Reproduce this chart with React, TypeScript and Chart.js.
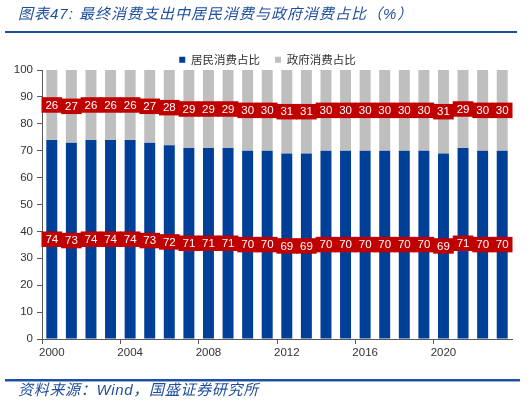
import { useEffect, useRef } from "react";
import { Chart, registerables, type Plugin } from "chart.js";

Chart.register(...registerables);

// 2000–2023 年，最终消费支出构成（%）
const years = [
  "2000", "2001", "2002", "2003", "2004", "2005", "2006", "2007",
  "2008", "2009", "2010", "2011", "2012", "2013", "2014", "2015",
  "2016", "2017", "2018", "2019", "2020", "2021", "2022", "2023",
];
const residentShare = [74, 73, 74, 74, 74, 73, 72, 71, 71, 71, 70, 70, 69, 69, 70, 70, 70, 70, 70, 70, 69, 71, 70, 70];
const governmentShare = [26, 27, 26, 26, 26, 27, 28, 29, 29, 29, 30, 30, 31, 31, 30, 30, 30, 30, 30, 30, 31, 29, 30, 30];
const seriesNames = ["居民消费占比", "政府消费占比"];

const AXIS = "#595959";
const TICK_TEXT = "#333333";
const LATIN = "'Liberation Sans', Arial, 'Noto Sans CJK SC', sans-serif";
const CJK = "'Noto Sans CJK SC', sans-serif";
const TITLE_BLUE = "#1f4e9c";

// 每根柱子中间的红底白字标签
const labelBoxes: Plugin<"bar"> = {
  id: "labelBoxes",
  afterDatasetsDraw(chart) {
    const { ctx } = chart;
    const xs = chart.scales.x;
    const catW = (xs.right - xs.left) / years.length;
    chart.data.datasets.forEach((ds, di) => {
      const meta = chart.getDatasetMeta(di);
      const pts = meta.data.map((el) => {
        const p = el.getProps(["x", "y", "base"], true) as { x: number; y: number; base: number };
        return { x: p.x, cy: (p.y + p.base) / 2 };
      });
      ctx.save();
      ctx.fillStyle = "#c00000";
      pts.forEach(({ x, cy }) => ctx.fillRect(x - catW / 2 - 0.5, cy - 7.75, catW + 1, 15.5));
      ctx.fillStyle = "#ffffff";
      ctx.font = `11.5px ${LATIN}`;
      ctx.textAlign = "center";
      ctx.textBaseline = "middle";
      pts.forEach(({ x, cy }, i) => ctx.fillText(String(ds.data[i]), x, cy + 0.5));
      ctx.restore();
    });
  },
};

// 图例在原图里略偏右
const shiftLegend: Plugin<"bar"> = {
  id: "shiftLegend",
  afterLayout(chart) {
    const lg = chart.legend;
    if (!lg) return;
    lg.left += 11.5;
    lg.right += 11.5;
  },
};

function ShareChart() {
  const canvasRef = useRef<HTMLCanvasElement>(null);

  useEffect(() => {
    const el = canvasRef.current;
    if (!el) return;
    const chart = new Chart(el, {
      type: "bar",
      data: {
        labels: years,
        datasets: [
          { label: seriesNames[0], data: residentShare, backgroundColor: "#003f98" },
          { label: seriesNames[1], data: governmentShare, backgroundColor: "#bfbfbf" },
        ],
      },
      options: {
        responsive: false,
        animation: false,
        devicePixelRatio: 1,
        layout: { padding: { left: 0, right: 19, top: 39, bottom: 0 } },
        datasets: { bar: { barPercentage: 0.56, categoryPercentage: 1 } },
        plugins: {
          tooltip: { enabled: false },
          legend: {
            position: "top",
            maxHeight: 31,
            labels: {
              boxWidth: 6,
              boxHeight: 6,
              padding: 15,
              color: TICK_TEXT,
              font: { family: CJK, size: 11.5 },
            },
          },
        },
        scales: {
          x: {
            stacked: true,
            offset: true,
            grid: {
              offset: true,
              drawOnChartArea: false,
              tickLength: 5,
              color: (c) => (c.index % 4 === 0 ? AXIS : "rgba(0,0,0,0)"),
            },
            border: { color: AXIS },
            ticks: {
              autoSkip: false,
              maxRotation: 0,
              padding: 2,
              color: TICK_TEXT,
              font: { family: LATIN, size: 11.5 },
              callback: (_v, i) => (i % 4 === 0 ? years[i] : ""),
            },
            afterFit: (s) => {
              s.height = 66;
            },
          },
          y: {
            stacked: true,
            min: 0,
            max: 100,
            grid: { drawOnChartArea: false, tickLength: 5, color: AXIS },
            border: { color: AXIS },
            ticks: {
              stepSize: 10,
              padding: 4,
              color: TICK_TEXT,
              font: { family: LATIN, size: 11.5 },
            },
            afterFit: (s) => {
              s.width = 42;
            },
          },
        },
      },
      plugins: [labelBoxes, shiftLegend],
    });
    return () => chart.destroy();
  }, []);

  return <canvas ref={canvasRef} width={531} height={405} style={{ display: "block" }} />;
}

export default function App() {
  return (
    <div style={{ position: "absolute", left: 0, top: 0, width: 531, height: 405, background: "#fff", overflow: "hidden" }}>
      <ShareChart />
      <div
        style={{
          position: "absolute", left: 18, top: 4, lineHeight: "20px",
          fontFamily: LATIN, fontStyle: "italic", fontSize: 15, letterSpacing: 1,
          color: TITLE_BLUE, whiteSpace: "nowrap",
        }}
      >
        图表47: 最终消费支出中居民消费与政府消费占比（%）
      </div>
      <div style={{ position: "absolute", left: 5, top: 31, width: 512, height: 2, background: TITLE_BLUE }} />
      <div style={{ position: "absolute", left: 5, top: 379, width: 515, height: 2, background: TITLE_BLUE }} />
      <div style={{ position: "absolute", left: 5, top: 381, width: 515, height: 1, background: "#8eaad6" }} />
      <div
        style={{
          position: "absolute", left: 18, top: 380, lineHeight: "20px",
          fontFamily: LATIN, fontStyle: "italic", fontSize: 15, letterSpacing: 0.7,
          color: TITLE_BLUE, whiteSpace: "nowrap",
        }}
      >
        资料来源：Wind，国盛证券研究所
      </div>
    </div>
  );
}
